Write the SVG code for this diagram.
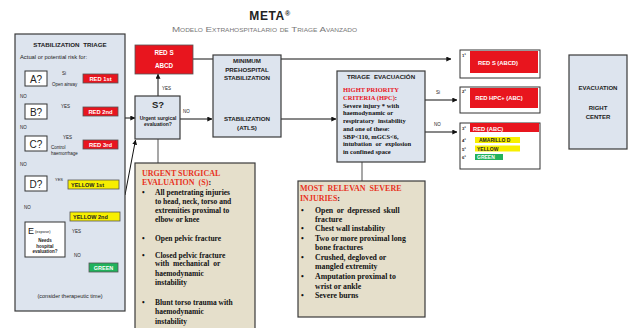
<svg xmlns="http://www.w3.org/2000/svg" width="630" height="328" viewBox="0 0 630 328">
<defs>
<style>
.sans{font-family:"Liberation Sans",Arial,sans-serif;font-weight:bold;fill:#222}
.reg{font-family:"Liberation Sans",Arial,sans-serif;fill:#222}
.serif{font-family:"Liberation Serif","Times New Roman",serif;font-weight:bold;fill:#111}
.red{fill:#e8151e}
.wt{fill:#fff}
.blue{fill:#dde4ee;stroke:#3a3a3a;stroke-width:1.2}
.beige{fill:#e5dfcb;stroke:#3a3a3a;stroke-width:1.2}
.wbox{fill:#fff;stroke:#333;stroke-width:1}
.rbox{fill:#e8151e;stroke:#555;stroke-width:0.8}
.ybox{fill:#f7ef00;stroke:#555;stroke-width:0.8}
.gbox{fill:#21b25c;stroke:#555;stroke-width:0.8}
.ln{stroke:#111;stroke-width:1;fill:none}
.arr{stroke:#111;stroke-width:1;fill:none;marker-end:url(#ah)}
.gray{stroke:#8a8a8a;stroke-width:1.5;fill:none}
.hd{font-family:"Liberation Serif","Times New Roman",serif;font-weight:bold;fill:#e8331e}
</style>
<marker id="ah" viewBox="0 0 8 8" refX="7.5" refY="4" markerWidth="5" markerHeight="5" orient="auto" markerUnits="userSpaceOnUse"><path d="M0,0 L8,4 L0,8 z" fill="#111"/></marker>
</defs>
<rect width="630" height="328" fill="#fff"/>

<g id="title">
<text x="270" y="20" text-anchor="middle" font-family="Liberation Sans,Arial,sans-serif" font-weight="bold" font-size="12" letter-spacing="0.6" fill="#222">META<tspan font-size="7" dy="-4">®</tspan></text>
<text x="172" y="31.5" font-family="Liberation Sans,Arial,sans-serif" font-size="7.5" font-variant="small-caps" fill="#777" textLength="185" lengthAdjust="spacingAndGlyphs">Modelo Extrahospitalario de Triage Avanzado</text>
</g>

<g id="connectors">
<line class="arr" x1="193" y1="59" x2="451" y2="59"/>
<line class="arr" x1="37" y1="86" x2="37" y2="104"/>
<line class="arr" x1="37" y1="119" x2="37" y2="136"/>
<line class="arr" x1="37" y1="151" x2="37" y2="176"/>
<line class="arr" x1="37" y1="191" x2="37" y2="222"/>
<line class="arr" x1="47" y1="79" x2="83" y2="79"/>
<line class="arr" x1="47" y1="111" x2="83" y2="111"/>
<line class="arr" x1="47" y1="144" x2="83" y2="144"/>
<line class="arr" x1="47" y1="184" x2="68" y2="184"/>
<line class="arr" x1="65" y1="241" x2="86" y2="222"/>
<line class="arr" x1="65" y1="242" x2="101" y2="263"/>
<line class="arr" x1="125" y1="118" x2="135" y2="118"/>
<line class="arr" x1="125" y1="195" x2="135.5" y2="140"/>
<line class="arr" x1="158" y1="96" x2="158" y2="74"/>
<line class="arr" x1="180" y1="119" x2="212" y2="119"/>
<line class="arr" x1="281" y1="119" x2="336" y2="119"/>
<line class="arr" x1="425" y1="100" x2="457" y2="100"/>
<line class="arr" x1="425" y1="132" x2="457" y2="132"/>
<line class="gray" x1="158" y1="139" x2="158" y2="163"/>
<line class="gray" x1="362" y1="162" x2="362" y2="181"/>
</g>

<g id="stabilization-triage">
<rect class="blue" x="15" y="34" width="110" height="277"/>
<text class="sans" x="70" y="47" font-size="6.2" text-anchor="middle" word-spacing="2">STABILIZATION TRIAGE</text>
<text class="reg" x="20" y="59" font-size="5.8">Actual or potential risk for:</text>
<text class="reg" x="20" y="98" font-size="4.5">NO</text>
<text class="reg" x="20" y="129" font-size="4.5">NO</text>
<text class="reg" x="20" y="166" font-size="4.5">NO</text>
<text class="reg" x="24" y="209" font-size="4.5">NO</text>
<text class="reg" x="70" y="298" font-size="5.5" text-anchor="middle">(consider therapeutic time)</text>
</g>

<g id="node-a">
<rect class="wbox" x="25" y="71" width="22" height="15"/>
<text class="reg" x="36" y="82.5" font-size="10" text-anchor="middle">A?</text>
<text class="reg" x="62" y="75" font-size="4.5">Si</text>
<text class="reg" x="52" y="86" font-size="4.5">Open airway</text>
</g>
<g id="node-red1">
<rect class="rbox" x="83" y="74" width="35" height="9"/>
<text class="sans wt" x="100.5" y="81" font-size="5.8" text-anchor="middle">RED 1st</text>
</g>

<g id="node-b">
<rect class="wbox" x="25" y="104" width="22" height="15"/>
<text class="reg" x="36" y="115.5" font-size="10" text-anchor="middle">B?</text>
<text class="reg" x="61" y="108" font-size="4.5">YES</text>
</g>
<g id="node-red2">
<rect class="rbox" x="83" y="107" width="35" height="9"/>
<text class="sans wt" x="100.5" y="114" font-size="5.8" text-anchor="middle">RED 2nd</text>
</g>

<g id="node-c">
<rect class="wbox" x="25" y="136" width="22" height="15"/>
<text class="reg" x="36" y="147.5" font-size="10" text-anchor="middle">C?</text>
<text class="reg" x="63" y="139" font-size="4.5">YES</text>
<text class="reg" x="51" y="149" font-size="4.5">Control</text>
<text class="reg" x="51" y="154.5" font-size="4.5">haemorrhage</text>
</g>
<g id="node-red3">
<rect class="rbox" x="83" y="140" width="35" height="9"/>
<text class="sans wt" x="100.5" y="147" font-size="5.8" text-anchor="middle">RED 3rd</text>
</g>

<g id="node-d">
<rect class="wbox" x="25" y="176" width="22" height="15"/>
<text class="reg" x="36" y="187.5" font-size="10" text-anchor="middle">D?</text>
<text class="reg" x="55" y="181" font-size="4">YES</text>
</g>
<g id="node-yellow1">
<rect class="ybox" x="68" y="180" width="51" height="9"/>
<text class="sans" x="71" y="187" font-size="5.5">YELLOW 1st</text>
</g>

<g id="node-e">
<rect class="wbox" x="25" y="222" width="40" height="35"/>
<text class="reg" x="28" y="234" font-size="9">E</text>
<text class="reg" x="35" y="233" font-size="4">(expose)</text>
<text class="sans" x="45" y="242" font-size="4.5" text-anchor="middle">Needs</text>
<text class="sans" x="45" y="247.5" font-size="4.5" text-anchor="middle">hospital</text>
<text class="sans" x="45" y="253" font-size="4.5" text-anchor="middle">evaluation?</text>
<text class="reg" x="72" y="233" font-size="4.5">YES</text>
<text class="reg" x="74" y="257" font-size="4.5">NO</text>
</g>
<g id="node-yellow2">
<rect class="ybox" x="70" y="212" width="50" height="9"/>
<text class="sans" x="73" y="219" font-size="5.5">YELLOW 2nd</text>
</g>
<g id="node-green">
<rect class="gbox" x="89" y="263" width="29" height="9"/>
<text class="sans wt" x="103.5" y="270" font-size="5.5" text-anchor="middle">GREEN</text>
</g>

<g id="node-reds">
<rect class="rbox" x="135" y="45" width="58" height="29"/>
<text class="sans wt" x="164" y="55" font-size="6.3" text-anchor="middle">RED S</text>
<text class="sans wt" x="164" y="68" font-size="6.3" text-anchor="middle">ABCD</text>
</g>

<g id="node-s">
<rect class="blue" x="135" y="96" width="45" height="43"/>
<text class="sans" x="158" y="108" font-size="9.5" text-anchor="middle">S?</text>
<text class="sans" x="158" y="120" font-size="5" text-anchor="middle">Urgent surgical</text>
<text class="sans" x="158" y="126" font-size="5" text-anchor="middle">evaluation?</text>
<text class="reg" x="162" y="90" font-size="4.5">YES</text>
<text class="reg" x="183" y="113" font-size="4.5">NO</text>
</g>

<g id="node-minimum">
<rect class="blue" x="213" y="55" width="68" height="82"/>
<text class="sans" x="247" y="63" font-size="6.2" text-anchor="middle">MINIMUM</text>
<text class="sans" x="247" y="71.5" font-size="6.2" text-anchor="middle">PREHOSPITAL</text>
<text class="sans" x="247" y="80" font-size="6.2" text-anchor="middle">STABILIZATION</text>
<text class="sans" x="247" y="121" font-size="6.2" text-anchor="middle">STABILIZATION</text>
<text class="sans" x="247" y="130" font-size="6.2" text-anchor="middle">(ATLS)</text>
</g>

<g id="node-triage">
<rect class="blue" x="337" y="71" width="88" height="91"/>
<text class="sans" x="381" y="78.5" font-size="6.2" text-anchor="middle" word-spacing="2">TRIAGE EVACUACIÓN</text>
<text class="serif red" x="343" y="92" font-size="6.5">HIGHT PRIORITY</text>
<text class="serif red" x="343" y="99.7" font-size="6.5">CRITERIA (HPC)<tspan fill="#111">:</tspan></text>
<text class="serif" x="343" y="107.7" font-size="6.5">Severe injury * with</text>
<text class="serif" x="343" y="115.3" font-size="6.5">haemodynamic or</text>
<text class="serif" x="343" y="123" font-size="6.5" word-spacing="2">respiratory instability</text>
<text class="serif" x="343" y="131" font-size="6.5">and one of these:</text>
<text class="serif" x="343" y="138.7" font-size="6.5">SBP&lt;110, mGCS&lt;6,</text>
<text class="serif" x="343" y="146.3" font-size="6.5" word-spacing="2">intubation or explosion</text>
<text class="serif" x="343" y="154.3" font-size="6.5">in confined space</text>
<text class="reg" x="436" y="94" font-size="4.5">Si</text>
<text class="reg" x="434" y="126" font-size="4.5">NO</text>
</g>

<g id="node-first">
<rect class="wbox" x="460" y="50" width="80" height="28" stroke="#555"/>
<rect x="470" y="51" width="68" height="22" fill="#e8151e"/>
<text class="sans" x="462" y="57" font-size="4.2">1ª</text>
<text class="sans wt" x="498" y="64.5" font-size="5.8" text-anchor="middle">RED S (ABCD)</text>
</g>

<g id="node-second">
<rect class="wbox" x="460" y="87" width="80" height="26" stroke="#555"/>
<rect x="470" y="88" width="68" height="20" fill="#e8151e"/>
<text class="sans" x="462" y="93" font-size="4.2">2ª</text>
<text class="sans wt" x="499" y="100" font-size="5.8" text-anchor="middle">RED HPC+ (ABC)</text>
</g>

<g id="node-third">
<rect class="wbox" x="460" y="123" width="80" height="46" stroke="#555"/>
<rect x="470" y="123" width="69" height="9" fill="#e8151e"/>
<text class="sans" x="462" y="129.5" font-size="4.2">3ª</text>
<text class="sans wt" x="473" y="130.5" font-size="5.8">RED (ABC)</text>
<text class="sans" x="462" y="142" font-size="4.2">4ª</text>
<rect x="475" y="137" width="45" height="6" fill="#f7ef00"/>
<text class="sans" x="479" y="142" font-size="5">AMARILLO D</text>
<text class="sans" x="462" y="150.5" font-size="4.2">5ª</text>
<rect x="475" y="145.5" width="45" height="6" fill="#f7ef00"/>
<text class="sans" x="477" y="150.5" font-size="5">YELLOW</text>
<text class="sans" x="462" y="159" font-size="4.2">6ª</text>
<rect x="475" y="154" width="28" height="6" fill="#21b25c"/>
<text class="sans wt" x="477" y="159" font-size="5">GREEN</text>
</g>

<g id="node-evacuation">
<rect class="blue" x="569" y="55" width="58" height="94"/>
<text class="sans" x="598" y="90" font-size="6" text-anchor="middle">EVACUATION</text>
<text class="sans" x="598" y="110" font-size="6" text-anchor="middle">RIGHT</text>
<text class="sans" x="598" y="119" font-size="6" text-anchor="middle">CENTER</text>
</g>

<g id="node-urgent">
<rect class="beige" x="135" y="163" width="120" height="170"/>
<text class="hd" x="142" y="176" font-size="8">URGENT SURGICAL</text>
<text class="hd" x="142" y="184.5" font-size="8" word-spacing="2">EVALUATION (S)<tspan fill="#111">:</tspan></text>
<g class="serif" font-size="7.5">
<text x="142" y="194.5">•</text>
<text x="155" y="194.5">All penetrating  injuries</text>
<text x="155" y="203.5">to head, neck, torso and</text>
<text x="155" y="213">extremities proximal to</text>
<text x="155" y="222">elbow or knee</text>
<text x="142" y="240.5">•</text>
<text x="155" y="240.5">Open pelvic fracture</text>
<text x="142" y="257.5">•</text>
<text x="155" y="257.5">Closed pelvic fracture</text>
<text x="155" y="266" word-spacing="2">with mechanical or</text>
<text x="155" y="275.5">haemodynamic</text>
<text x="155" y="285">instability</text>
<text x="142" y="304.5">•</text>
<text x="155" y="304.5">Blunt torso trauma with</text>
<text x="155" y="314">haemodynamic</text>
<text x="155" y="323.5">instability</text>
</g>
</g>

<g id="node-severe">
<rect class="beige" x="298" y="181" width="127" height="136"/>
<text class="hd" x="300" y="191" font-size="8" word-spacing="2">MOST RELEVAN SEVERE</text>
<text class="hd" x="300" y="200.5" font-size="8">INJURIES<tspan fill="#111">:</tspan></text>
<g class="serif" font-size="7.8">
<text x="301" y="212.5">•</text>
<text x="315" y="212.5" word-spacing="1.5">Open or depressed skull</text>
<text x="315" y="221.5">fracture</text>
<text x="301" y="230.5">•</text>
<text x="315" y="230.5">Chest wall instability</text>
<text x="301" y="240.5">•</text>
<text x="315" y="240.5">Two or more proximal long</text>
<text x="315" y="250">bone fractures</text>
<text x="301" y="259.5">•</text>
<text x="315" y="259.5">Crushed, degloved or</text>
<text x="315" y="269">mangled extremity</text>
<text x="301" y="279">•</text>
<text x="315" y="279">Amputation proximal to</text>
<text x="315" y="288.5">wrist or ankle</text>
<text x="301" y="297.5">•</text>
<text x="315" y="297.5">Severe burns</text>
</g>
</g>
</svg>
